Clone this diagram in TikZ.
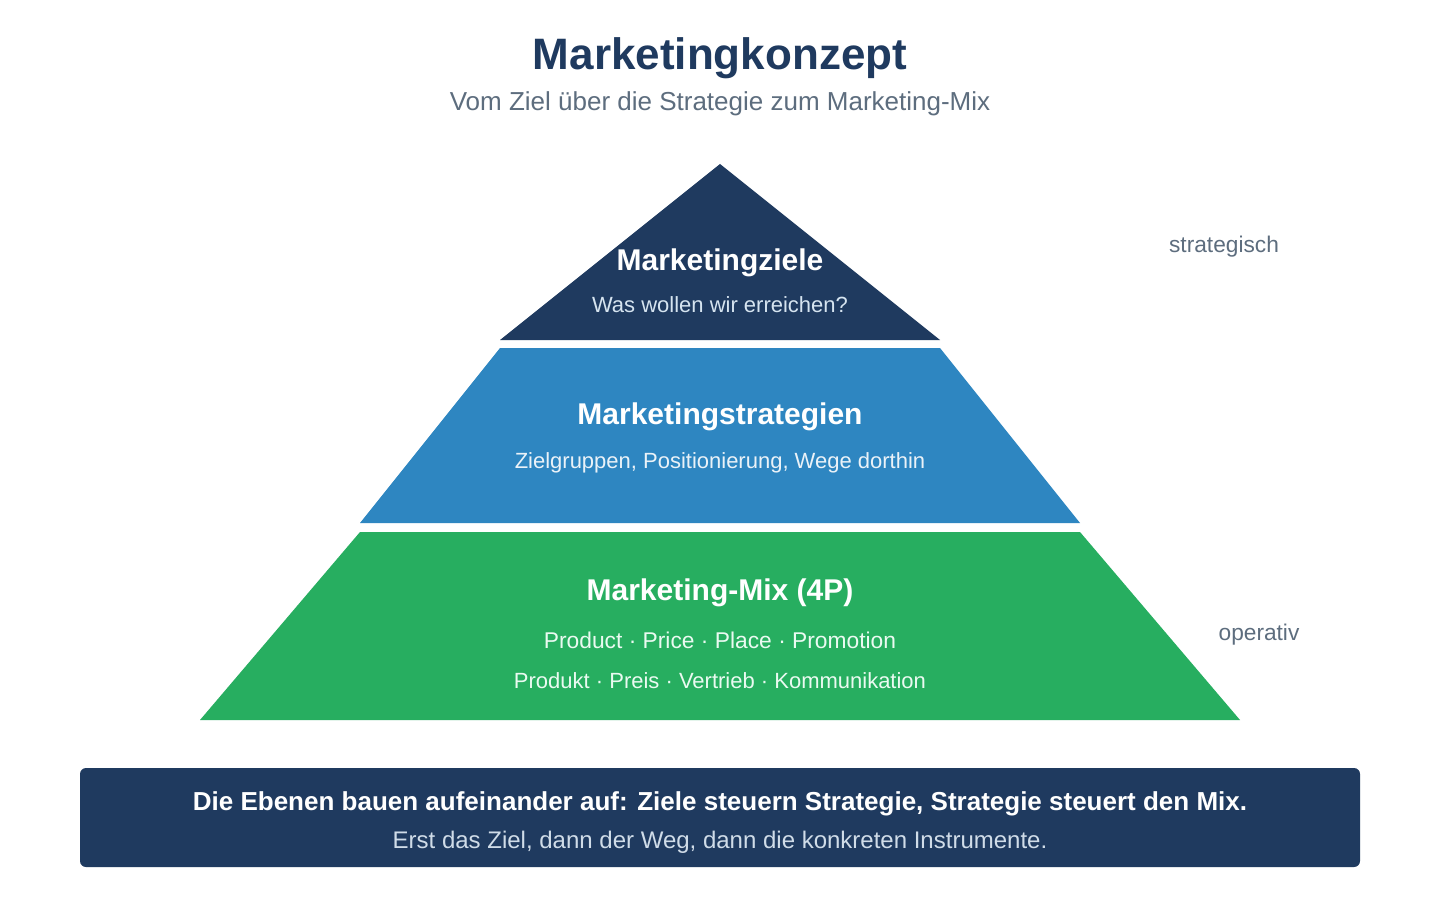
\documentclass[tikz,border=0pt]{standalone}
\usepackage{fontspec}
\setmainfont{Liberation Sans}
\definecolor{navy}{HTML}{1F3A5F}
\definecolor{midblue}{HTML}{2E86C1}
\definecolor{mixgreen}{HTML}{27AE60}
\definecolor{slate}{HTML}{5D6D7E}
\definecolor{paleblue}{HTML}{D6E4F0}
\definecolor{paletext}{HTML}{EAF2F8}
\definecolor{palegreen}{HTML}{EAFAF1}
\definecolor{notetext}{HTML}{D0DCE8}
\begin{document}
\begin{tikzpicture}[
			x=1pt, y=-1pt,
			every node/.style={inner sep=0pt, anchor=base},
			heading/.style={font=\fontsize{44}{52}\selectfont\bfseries, text=navy},
			subheading/.style={font=\fontsize{26}{31}\selectfont, text=slate},
			tiertitle/.style={font=\fontsize{30}{36}\selectfont\bfseries, text=white},
			tiertext/.style={font=\fontsize{22}{26}\selectfont},
			sidelabel/.style={font=\fontsize{22.7}{27}\selectfont, text=slate},
			notetitle/.style={font=\fontsize{26}{31}\selectfont\bfseries, text=white},
			notetext/.style={font=\fontsize{24}{29}\selectfont, text=notetext}
			]
			\useasboundingbox[fill=white] (0,0) rectangle (1440,920);
			\node[heading] (title) at (720,70) {Marketingkonzept};
			\node[subheading] (subtitle) at (720,111) {Vom Ziel über die Strategie zum Marketing-Mix};
			\fill[navy] (720,164) -- (940,340) -- (500,340) -- cycle;
			\fill[midblue] (500,348) -- (940,348) -- (1080,523) -- (360,523) -- cycle;
			\fill[mixgreen] (360,532) -- (1080,532) -- (1240,720) -- (200,720) -- cycle;
			\node[tiertitle] (ziele) at (720,270) {Marketingziele};
			\node[tiertext, text=paleblue] (zieletext) at (720,312) {Was wollen wir erreichen?};
			\node[tiertitle] (strategie) at (720,424) {Marketingstrategien};
			\node[tiertext, text=paletext] (strategietext) at (720,468) {Zielgruppen, Positionierung, Wege dorthin};
			\node[tiertitle] (mix) at (720,600) {Marketing-Mix (4P)};
			\node[tiertext, text=palegreen, font=\fontsize{22.8}{27}\selectfont] (mixen) at (720,648) {Product · Price · Place · Promotion};
			\node[tiertext, text=palegreen] (mixde) at (720,688) {Produkt · Preis · Vertrieb · Kommunikation};
			\node[sidelabel] (strategisch) at (1224,252) {strategisch};
			\node[sidelabel] (operativ) at (1259,640) {operativ};
			\fill[navy, rounded corners=6pt] (80,768) rectangle (1360,867);
			\node[notetitle] (note) at (720,810) {Die Ebenen bauen aufeinander auf: Ziele steuern Strategie, Strategie steuert den Mix.};
			\node[notetext] (notesub) at (720,848) {Erst das Ziel, dann der Weg, dann die konkreten Instrumente.};
		\end{tikzpicture}
\end{document}
